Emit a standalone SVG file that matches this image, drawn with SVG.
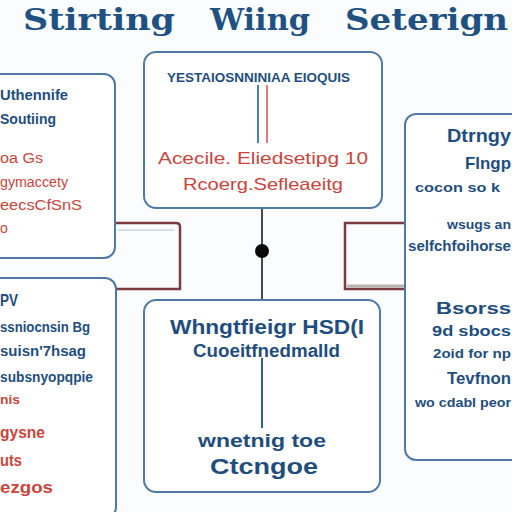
<svg xmlns="http://www.w3.org/2000/svg" width="512" height="512" viewBox="0 0 512 512">
<style>
.box{fill:#ffffff;stroke:#4f79a6;stroke-width:2}
.b{fill:#1f4e7e;font-family:"Liberation Sans",Arial,sans-serif;font-weight:bold}
.r{fill:#c8453d;font-family:"Liberation Sans",Arial,sans-serif}
.rb{fill:#c8453d;font-family:"Liberation Sans",Arial,sans-serif;font-weight:bold}
.t{fill:#1f5282;font-family:"DejaVu Serif","Liberation Serif",serif;font-weight:bold}
.br{fill:none;stroke:#7a3c40;stroke-width:2.5}
</style>
<rect width="512" height="512" fill="#fbfcfd"/>
<text class="t" font-size="29" x="23" y="30" textLength="152" lengthAdjust="spacingAndGlyphs">Stirting</text>
<text class="t" font-size="29" x="210" y="30" textLength="100" lengthAdjust="spacingAndGlyphs">Wiing</text>
<text class="t" font-size="29" x="345" y="30" textLength="163" lengthAdjust="spacingAndGlyphs">Seterign</text>

<g id="connectors">
<path class="br" d="M116 223 H176 Q180 223 180 227 V289 H116"/>
<line x1="118" y1="230" x2="174" y2="230" stroke="#c9d6e2" stroke-width="1.5"/>
<path class="br" d="M405 223 H345 V289 H405"/>
<line x1="347" y1="286" x2="404" y2="286" stroke="#b9b2ad" stroke-width="3"/>
<line x1="262" y1="208" x2="262" y2="299" stroke="#4a4a4a" stroke-width="2"/>
<circle cx="262" cy="251" r="7" fill="#0a0a0a"/>
</g>

<g id="node-left-top">
<rect class="box" x="-12" y="74" width="127" height="184" rx="11"/>
<text class="b" font-size="15" x="0" y="100" textLength="68" lengthAdjust="spacingAndGlyphs">Uthennife</text>
<text class="b" font-size="15" x="0" y="124" textLength="56" lengthAdjust="spacingAndGlyphs">Soutiing</text>
<text class="r" font-size="14" x="0" y="163" textLength="43" lengthAdjust="spacingAndGlyphs">oa Gs</text>
<text class="r" font-size="14" x="0" y="187" textLength="68" lengthAdjust="spacingAndGlyphs">gymaccety</text>
<text class="r" font-size="14" x="0" y="210" textLength="82" lengthAdjust="spacingAndGlyphs">eecsCfSnS</text>
<text class="r" font-size="14" x="0" y="233">o</text>
</g>

<g id="node-center-top">
<rect class="box" x="144" y="52" width="238" height="156" rx="12"/>
<text class="b" font-size="12" x="167" y="82" textLength="183" lengthAdjust="spacingAndGlyphs">YESTAIOSNNINIAA EIOQUIS</text>
<line x1="258" y1="85" x2="258" y2="143" stroke="#4a7fb5" stroke-width="2"/>
<line x1="267" y1="85" x2="267" y2="143" stroke="#e07a78" stroke-width="2"/>
<text class="r" font-size="17" x="158" y="164" textLength="210" lengthAdjust="spacingAndGlyphs">Acecile. Eliedsetipg 10</text>
<text class="r" font-size="17" x="183" y="190" textLength="160" lengthAdjust="spacingAndGlyphs">Rcoerg.Sefleaeitg</text>
</g>

<g id="node-right">
<rect class="box" x="405" y="114" width="120" height="346" rx="11"/>
<text class="b" font-size="19" x="447" y="142" textLength="64" lengthAdjust="spacingAndGlyphs">Dtrngy</text>
<text class="b" font-size="17" x="465" y="169" textLength="46" lengthAdjust="spacingAndGlyphs">Flngp</text>
<text class="b" font-size="13" x="415" y="192" textLength="85" lengthAdjust="spacingAndGlyphs">cocon so k</text>
<text class="b" font-size="13" x="447" y="229" textLength="64" lengthAdjust="spacingAndGlyphs">wsugs an</text>
<text class="b" font-size="14" x="408" y="251" textLength="103" lengthAdjust="spacingAndGlyphs">selfchfoihorse</text>
<text class="b" font-size="16" x="436" y="314" textLength="75" lengthAdjust="spacingAndGlyphs">Bsorss</text>
<text class="b" font-size="14" x="432" y="336" textLength="79" lengthAdjust="spacingAndGlyphs">9d sbocs</text>
<text class="b" font-size="13" x="433" y="358" textLength="78" lengthAdjust="spacingAndGlyphs">2oid for np</text>
<text class="b" font-size="17" x="447" y="384" textLength="64" lengthAdjust="spacingAndGlyphs">Tevfnon</text>
<text class="b" font-size="13" x="415" y="407" textLength="96" lengthAdjust="spacingAndGlyphs">wo cdabl peor</text>
</g>

<g id="node-left-bottom">
<rect class="box" x="-12" y="278" width="128" height="240" rx="11"/>
<text class="b" font-size="17" x="0" y="306" textLength="18" lengthAdjust="spacingAndGlyphs">PV</text>
<text class="b" font-size="14" x="0" y="332" textLength="90" lengthAdjust="spacingAndGlyphs">ssniocnsin Bg</text>
<text class="b" font-size="14" x="0" y="356" textLength="86" lengthAdjust="spacingAndGlyphs">suisn'7hsag</text>
<text class="b" font-size="14" x="0" y="382" textLength="93" lengthAdjust="spacingAndGlyphs">subsnyopqpie</text>
<text class="rb" font-size="12" x="0" y="404" textLength="20" lengthAdjust="spacingAndGlyphs">nis</text>
<text class="rb" font-size="17" x="0" y="438" textLength="45" lengthAdjust="spacingAndGlyphs">gysne</text>
<text class="rb" font-size="17" x="0" y="466" textLength="22" lengthAdjust="spacingAndGlyphs">uts</text>
<text class="rb" font-size="17" x="0" y="493" textLength="53" lengthAdjust="spacingAndGlyphs">ezgos</text>
</g>

<g id="node-center-bottom">
<rect class="box" x="144" y="300" width="236" height="192" rx="12"/>
<text class="b" font-size="20" x="170" y="334" textLength="194" lengthAdjust="spacingAndGlyphs">Whngtfieigr HSD(I</text>
<text class="b" font-size="18" x="193" y="357" textLength="147" lengthAdjust="spacingAndGlyphs">Cuoeitfnedmalld</text>
<line x1="262" y1="358" x2="262" y2="428" stroke="#2f5f90" stroke-width="2"/>
<text class="b" font-size="18" x="198" y="447" textLength="128" lengthAdjust="spacingAndGlyphs">wnetnig toe</text>
<text class="b" font-size="22" x="210" y="474" textLength="108" lengthAdjust="spacingAndGlyphs">Ctcngoe</text>
</g>
</svg>
